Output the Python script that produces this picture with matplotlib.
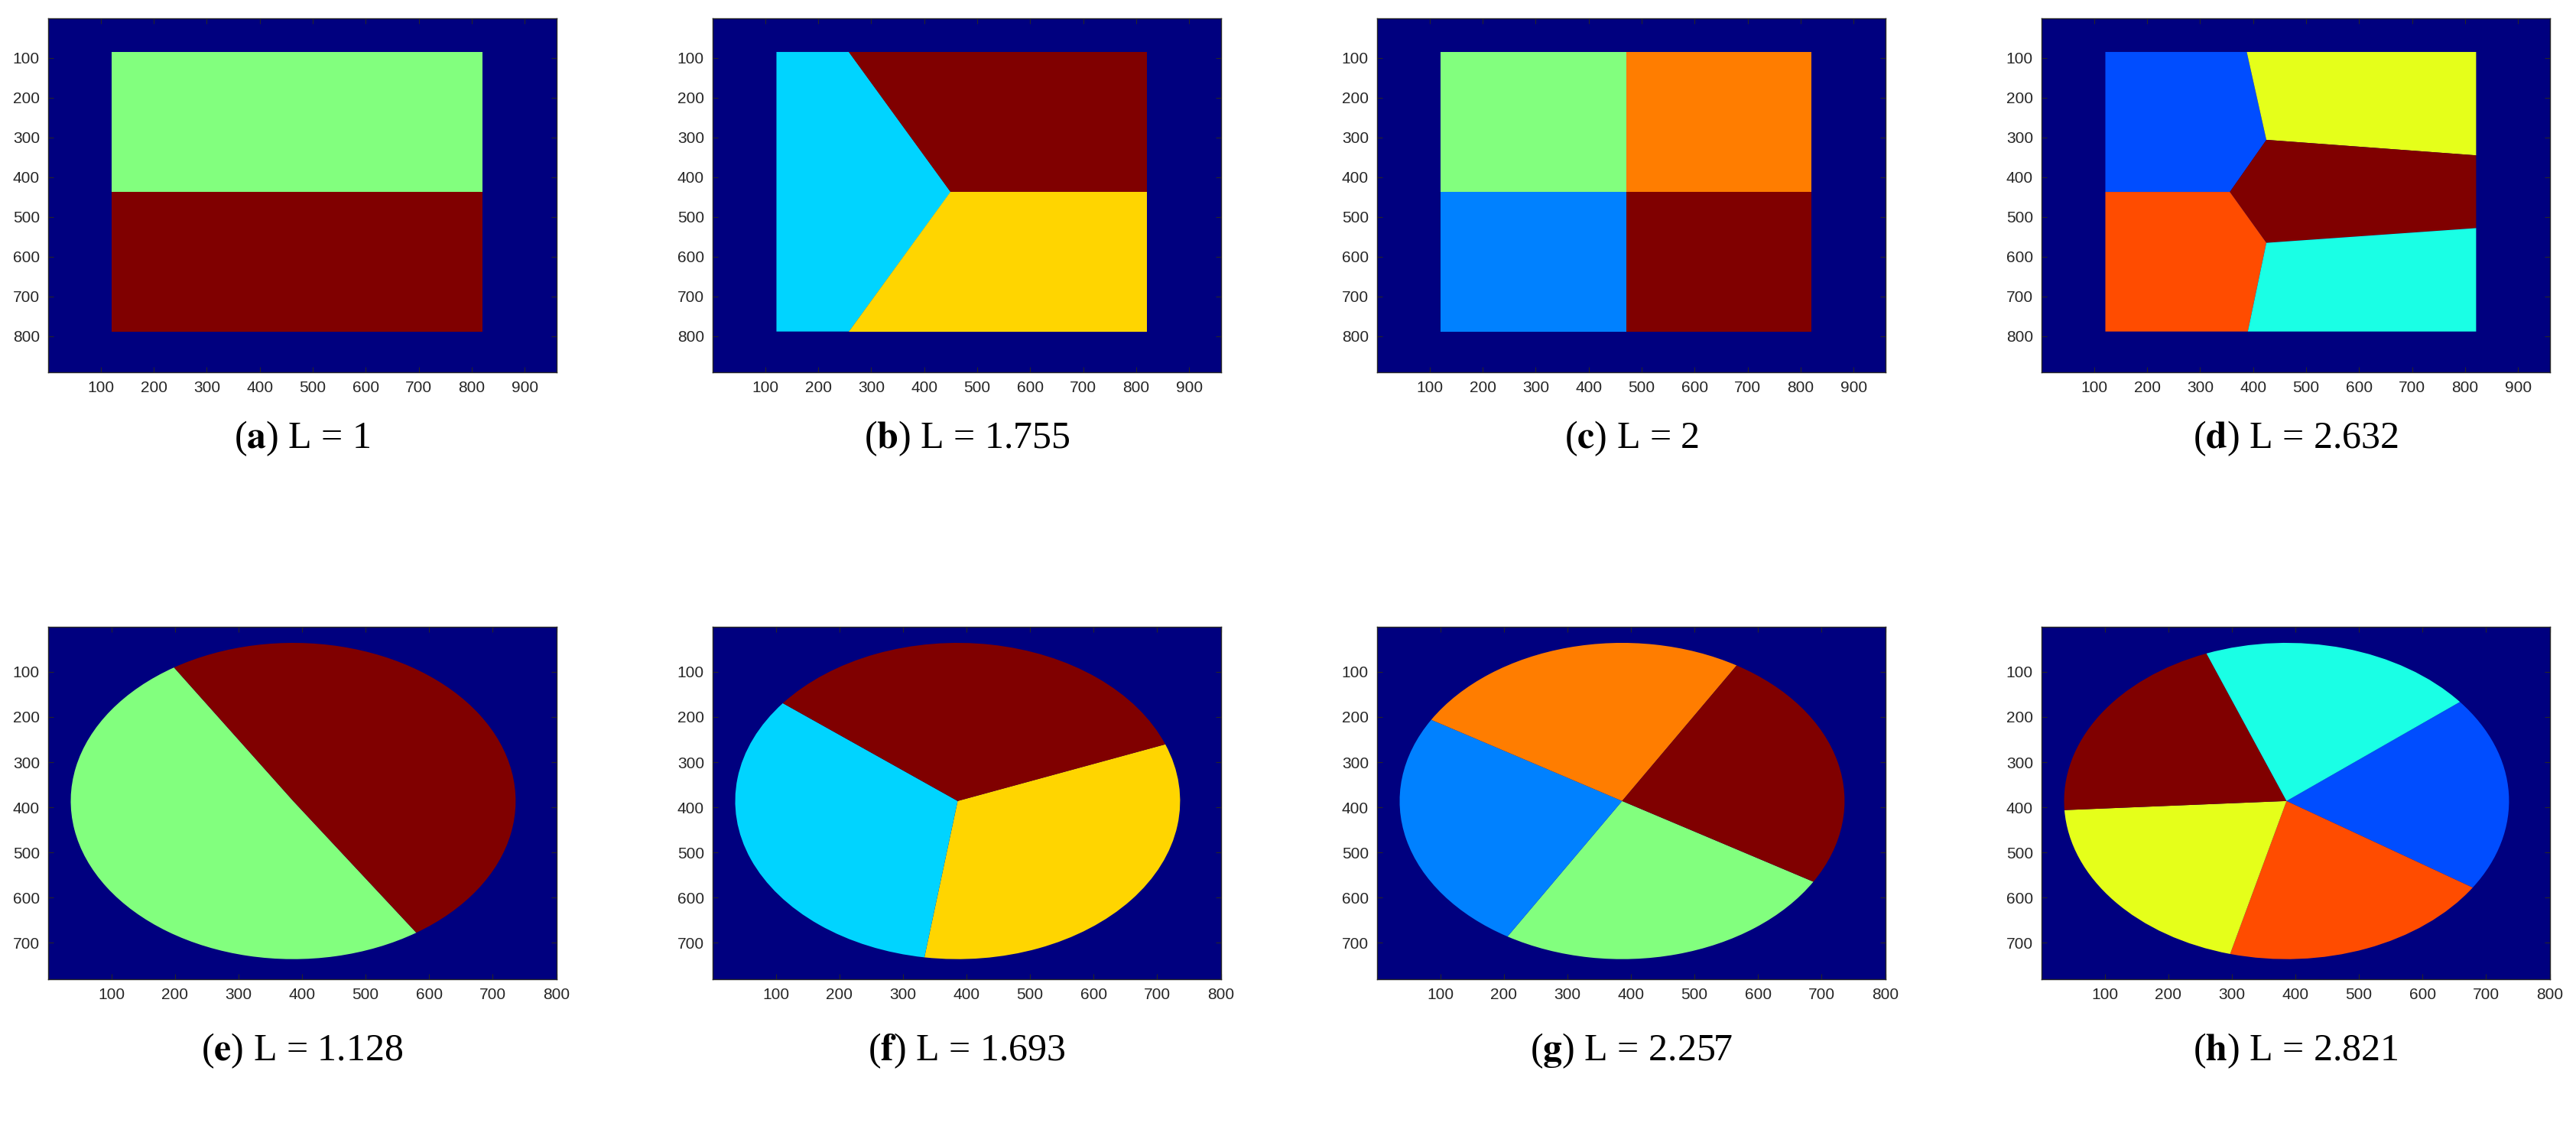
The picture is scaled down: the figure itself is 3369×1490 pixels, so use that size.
import numpy as np
import matplotlib
matplotlib.use('Agg')
import matplotlib.pyplot as plt
from matplotlib.colors import ListedColormap
from matplotlib.patches import Polygon, Wedge

plt.rcParams['mathtext.fontset'] = 'stix'

#---------------------------------------------------------------------------------------------------
# Data (pixel coordinates of the label images)
#---------------------------------------------------------------------------------------------------

# Top row: rectangle domain split into polygonal regions, value = jet colour level
rect_size = (960, 890)
rect_regions = {
    'a': [([(121, 85), (821, 85), (821, 437), (121, 437)], 0.5),
          ([(121, 437), (821, 437), (821, 788), (121, 788)], 1.0)],
    'b': [([(121, 85), (258, 85), (450, 437), (258, 788), (121, 788)], 1/3),
          ([(258, 85), (821, 85), (821, 437), (450, 437)], 1.0),
          ([(450, 437), (821, 437), (821, 788), (258, 788)], 2/3)],
    'c': [([(121, 85), (471, 85), (471, 437), (121, 437)], 0.5),
          ([(471, 85), (821, 85), (821, 437), (471, 437)], 0.75),
          ([(121, 437), (471, 437), (471, 788), (121, 788)], 0.25),
          ([(471, 437), (821, 437), (821, 788), (471, 788)], 1.0)],
    'd': [([(121, 85), (388, 85), (425, 306), (356, 437), (121, 437)], 0.2),
          ([(388, 85), (821, 85), (821, 345), (425, 306)], 0.6),
          ([(425, 306), (821, 345), (821, 528), (425, 565), (356, 437)], 1.0),
          ([(121, 437), (356, 437), (425, 565), (390, 788), (121, 788)], 0.8),
          ([(425, 565), (821, 528), (821, 788), (390, 788)], 0.4)],
}

# Bottom row: disc domain split into sectors (start angle, end angle in degrees, jet level)
disc_size = (800, 780)
disc_center = (386, 386)
disc_radius = 350
disc_sectors = {
    'e': [(56.4, 237.6, 0.5), (237.6, 416.4, 1.0)],
    'f': [(-21.0, 98.6, 2/3), (98.6, 218.2, 1/3), (218.2, 339.0, 1.0)],
    'g': [(30.7, 121.0, 0.5), (121.0, 210.9, 0.25), (210.9, 301.0, 0.75), (301.0, 390.7, 1.0)],
    'h': [(-38.8, 33.2, 0.2), (33.2, 104.7, 0.8), (104.7, 176.7, 0.6),
          (176.7, 248.9, 1.0), (248.9, 321.2, 0.4)],
}

captions = {'a': '1', 'b': '1.755', 'c': '2', 'd': '2.632',
            'e': '1.128', 'f': '1.693', 'g': '2.257', 'h': '2.821'}

#---------------------------------------------------------------------------------------------------
# Plot
#---------------------------------------------------------------------------------------------------

# MATLAB-style jet colour map
t = np.linspace(0, 1, 256)
jet_rgb = np.stack([np.clip(1.5 - np.abs(4 * t - c), 0, 1) for c in (3, 2, 1)], axis=1)
cmap = ListedColormap(jet_rgb)

W, H = 3369, 1490
fig = plt.figure(figsize=(W / 100, H / 100), dpi=100)

lefts = [63, 932, 1801, 2670]
ax_w = 665
rows = [(24, 487, 574), (820, 1281, 1375)]


def style_axes(ax, xt, yt):
    ax.set_xticks(xt)
    ax.set_yticks(yt)
    ax.tick_params(direction='in', length=5, width=0.8, top=True, right=True,
                   labelsize=15, colors='#262626', pad=8)
    for lab in ax.get_xticklabels() + ax.get_yticklabels():
        lab.set_family('Liberation Sans')
    for s in ax.spines.values():
        s.set_color('#262626')
        s.set_linewidth(1.0)


def caption(i, key, cap_y):
    fig.text((lefts[i] + ax_w / 2) / W, 1 - cap_y / H,
             r'($\mathbf{%s}$) L = %s' % (key, captions[key]),
             ha='center', va='center', fontsize=36, family='Liberation Serif')


for i, key in enumerate('abcd'):
    top, bot, cap_y = rows[0]
    ax = fig.add_axes([lefts[i] / W, 1 - bot / H, ax_w / W, (bot - top) / H])
    w, h = rect_size
    ax.imshow(np.zeros((h, w)), cmap=cmap, vmin=0, vmax=1, aspect='auto',
              extent=(0.5, w + 0.5, h + 0.5, 0.5))
    for verts, lev in rect_regions[key]:
        ax.add_patch(Polygon(verts, closed=True, fc=cmap(lev), ec='none'))
    style_axes(ax, range(100, 901, 100), range(100, 801, 100))
    caption(i, key, cap_y)

for i, key in enumerate('efgh'):
    top, bot, cap_y = rows[1]
    ax = fig.add_axes([lefts[i] / W, 1 - bot / H, ax_w / W, (bot - top) / H])
    w, h = disc_size
    ax.imshow(np.zeros((h, w)), cmap=cmap, vmin=0, vmax=1, aspect='auto',
              extent=(0.5, w + 0.5, h + 0.5, 0.5))
    for t1, t2, lev in disc_sectors[key]:
        ax.add_patch(Wedge(disc_center, disc_radius, t1, t2, fc=cmap(lev), ec='none'))
    style_axes(ax, range(100, 801, 100), range(100, 701, 100))
    caption(i, key, cap_y)

fig.savefig('out.png', dpi=100)
